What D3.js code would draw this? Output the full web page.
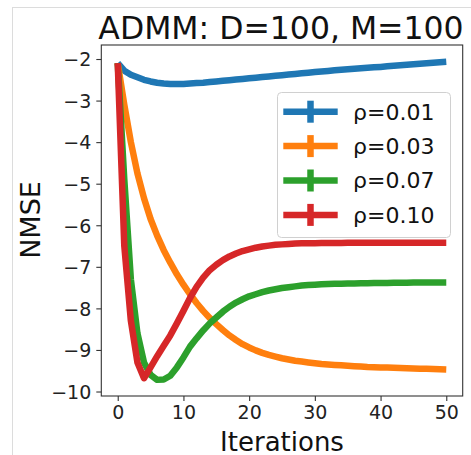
<!DOCTYPE html>
<html>
<head>
<meta charset="utf-8">
<script src="https://cdn.jsdelivr.net/npm/d3@7"></script>
<style>
  html, body { margin: 0; padding: 0; background: #fff; }
  svg { display: block; font-family: "DejaVu Sans", sans-serif; }
</style>
</head>
<body>
<svg id="chart" width="471" height="455"></svg>
<script>
// NMSE per ADMM iteration for four penalty values
const iterations = d3.range(0, 51);
const seriesNames = ["ρ=0.01", "ρ=0.03", "ρ=0.07", "ρ=0.10"];
const seriesColors = ["#1f77b4", "#ff7f0e", "#2ca02c", "#d62728"];

const rho001 = [-2.10, -2.28, -2.38, -2.44, -2.50, -2.54, -2.57, -2.59, -2.60, -2.60,
  -2.60, -2.59, -2.58, -2.57, -2.555, -2.54, -2.525, -2.51, -2.495, -2.48,
  -2.465, -2.45, -2.435, -2.42, -2.405, -2.39, -2.375, -2.36, -2.345, -2.33,
  -2.315, -2.30, -2.286, -2.272, -2.258, -2.245, -2.234, -2.223, -2.212, -2.201,
  -2.19, -2.177, -2.164, -2.151, -2.138, -2.125, -2.112, -2.10, -2.088, -2.076, -2.065];
const rho003 = [-2.10, -3.10, -4.00, -4.75, -5.35, -5.85, -6.25, -6.60, -6.90, -7.18,
  -7.43, -7.66, -7.87, -8.06, -8.23, -8.38, -8.52, -8.65, -8.76, -8.86,
  -8.94, -9.01, -9.07, -9.12, -9.16, -9.20, -9.23, -9.26, -9.28, -9.30,
  -9.32, -9.34, -9.35, -9.36, -9.37, -9.38, -9.39, -9.40, -9.41, -9.415,
  -9.42, -9.425, -9.43, -9.435, -9.44, -9.445, -9.45, -9.455, -9.46, -9.465, -9.47];
const rho007 = [-2.10, -4.90, -7.30, -8.60, -9.30, -9.60, -9.72, -9.71, -9.62, -9.42,
  -9.18, -8.92, -8.72, -8.53, -8.36, -8.22, -8.08, -7.96, -7.86, -7.78,
  -7.71, -7.66, -7.61, -7.57, -7.54, -7.51, -7.49, -7.47, -7.45, -7.44,
  -7.43, -7.42, -7.415, -7.41, -7.405, -7.40, -7.40, -7.395, -7.395, -7.39,
  -7.39, -7.39, -7.385, -7.385, -7.385, -7.38, -7.38, -7.38, -7.38, -7.38, -7.38];
const rho010 = [-2.10, -6.50, -8.30, -9.30, -9.68, -9.42, -9.15, -8.90, -8.65, -8.36,
  -8.06, -7.75, -7.48, -7.26, -7.08, -6.95, -6.84, -6.75, -6.68, -6.62,
  -6.58, -6.54, -6.51, -6.49, -6.47, -6.46, -6.45, -6.44, -6.435, -6.43,
  -6.43, -6.428, -6.426, -6.425, -6.424, -6.423, -6.422, -6.421, -6.42, -6.42,
  -6.42, -6.42, -6.42, -6.42, -6.42, -6.42, -6.42, -6.42, -6.42, -6.42, -6.42];
const seriesValues = [rho001, rho003, rho007, rho010];

const xTicks = [0, 10, 20, 30, 40, 50];
const yTicks = [-2, -3, -4, -5, -6, -7, -8, -9, -10];

const svg = d3.select("#chart");
const plot = { left: 101.3, right: 462.7, top: 45, bottom: 396 };

const x = d3.scaleLinear().domain([-2.5, 52.5]).range([plot.left, plot.right]);
const y = d3.scaleLinear().domain([-10.108, -1.663]).range([plot.bottom, plot.top]);

// figure frame
svg.append("rect")
  .attr("x", 12.5).attr("y", 7.5).attr("width", 500).attr("height", 500)
  .attr("fill", "none").attr("stroke", "#dcdcdc").attr("stroke-width", 1);

// series lines
const line = d3.line().x((d, i) => x(iterations[i])).y(d => y(d));
seriesValues.forEach((vals, k) => {
  svg.append("path")
    .datum(vals)
    .attr("d", line)
    .attr("fill", "none")
    .attr("stroke", seriesColors[k])
    .attr("stroke-width", 6.5)
    .attr("stroke-linejoin", "round")
    .attr("stroke-linecap", "butt");
});

// axes
const fmt = d => d3.format("d")(d).replace("-", "\u2212");
const xAxis = svg.append("g")
  .attr("transform", `translate(0,${plot.bottom})`)
  .call(d3.axisBottom(x).tickValues(xTicks).tickSize(5).tickPadding(4).tickFormat(fmt));
const yAxis = svg.append("g")
  .attr("transform", `translate(${plot.left},0)`)
  .call(d3.axisLeft(y).tickValues(yTicks).tickSize(5).tickPadding(5).tickFormat(fmt));
[xAxis, yAxis].forEach(g => {
  g.select(".domain").remove();
  g.selectAll(".tick line").attr("stroke", "#333").attr("stroke-width", 1.1);
  g.selectAll(".tick text").attr("fill", "#222")
    .style("font-family", "DejaVu Sans").style("font-size", "19px");
});
xAxis.selectAll(".tick text").attr("dy", "0.72em");
yAxis.selectAll(".tick text").attr("dy", "0.36em");

// spines
svg.append("rect")
  .attr("x", plot.left).attr("y", plot.top)
  .attr("width", plot.right - plot.left).attr("height", plot.bottom - plot.top)
  .attr("fill", "none").attr("stroke", "#333").attr("stroke-width", 1.1);

// legend
const lg = svg.append("g");
lg.append("rect")
  .attr("x", 277.5).attr("y", 92.5).attr("width", 173).attr("height", 145)
  .attr("rx", 4).attr("ry", 4)
  .attr("fill", "#fff").attr("fill-opacity", 0.8)
  .attr("stroke", "#d0d0d0").attr("stroke-width", 1);
seriesNames.forEach((name, k) => {
  const cy = 111.7 + k * 34.4;
  lg.append("line")
    .attr("x1", 283.3).attr("x2", 337.7).attr("y1", cy).attr("y2", cy)
    .attr("stroke", seriesColors[k]).attr("stroke-width", 6.5);
  lg.append("line")
    .attr("x1", 310.5).attr("x2", 310.5).attr("y1", cy - 11).attr("y2", cy + 11)
    .attr("stroke", seriesColors[k]).attr("stroke-width", 6.5);
  lg.append("text")
    .attr("x", 353).attr("y", cy).attr("dy", "0.36em")
    .attr("fill", "#111")
    .style("font-size", "22px")
    .text(name);
});

// labels
svg.append("text")
  .attr("x", 281).attr("y", 39)
  .attr("text-anchor", "middle").attr("fill", "#111")
  .style("font-size", "31.5px")
  .text("ADMM: D=100, M=100");
svg.append("text")
  .attr("x", 282).attr("y", 450.5)
  .attr("text-anchor", "middle").attr("fill", "#111")
  .style("font-size", "26px")
  .text("Iterations");
svg.append("text")
  .attr("transform", "translate(40,220) rotate(-90)")
  .attr("text-anchor", "middle").attr("fill", "#111")
  .style("font-size", "27px")
  .text("NMSE");
</script>
</body>
</html>
